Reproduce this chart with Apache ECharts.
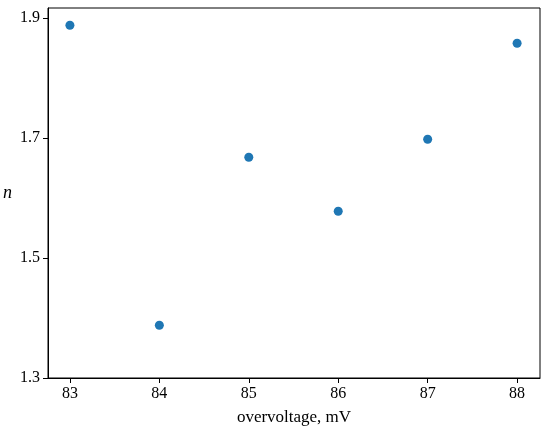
<!DOCTYPE html>
<html><head><meta charset="utf-8">
<script src="https://cdn.jsdelivr.net/npm/echarts@6/dist/echarts.min.js"></script>
<style>html,body{margin:0;background:#fff}#c{width:550px;height:436px}</style>
</head><body><div id="c"></div>
<script>
const xValues=[83,84,85,86,87,88];
const nValues=[1.888,1.388,1.668,1.578,1.698,1.858];
const xTicks=[83,84,85,86,87,88];
const yTicks=[1.3,1.5,1.7,1.9];
const font="Liberation Serif";
const chart=echarts.init(document.getElementById('c'));
const axisCommon={axisLine:{show:true,onZero:false,lineStyle:{color:'#000',width:1}},splitLine:{show:false}};
chart.setOption({
 animation:false,
 grid:{left:46,right:10,top:8,bottom:58,show:true,borderColor:'#000',borderWidth:1},
 xAxis:Object.assign({type:'value',min:82.755,max:88.256,name:'overvoltage, mV',nameLocation:'middle',nameGap:31,
  nameTextStyle:{fontFamily:font,fontSize:17,color:'#000'},
  axisLabel:{customValues:xTicks,fontFamily:font,fontSize:16,color:'#000',margin:8},
  axisTick:{show:true,customValues:xTicks,length:5,lineStyle:{color:'#000'}}},axisCommon),
 yAxis:Object.assign({type:'value',min:1.3,max:1.9167,name:'n',nameLocation:'middle',nameGap:36,nameRotate:0,
  nameTextStyle:{fontFamily:font,fontSize:18,fontStyle:'italic',color:'#000'},
  axisLabel:{customValues:yTicks,formatter:v=>v.toFixed(1),fontFamily:font,fontSize:16,color:'#000',margin:8},
  axisTick:{show:true,customValues:yTicks,length:5,lineStyle:{color:'#000'}}},axisCommon),
 series:[{type:'scatter',data:xValues.map((x,i)=>[x,nValues[i]]),symbolSize:9,itemStyle:{color:'#1f77b4',opacity:1}}]
});
</script></body></html>
